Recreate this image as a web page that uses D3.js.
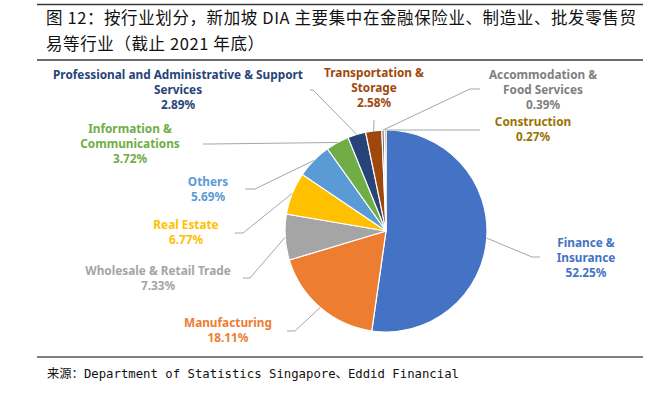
<!DOCTYPE html>
<html>
<head>
<meta charset="utf-8">
<script src="https://cdn.jsdelivr.net/npm/d3@7"></script>
<style>
  body { margin: 0; background: #fff; }
  svg { display: block; }
</style>
</head>
<body>
<script>
// data
var CATEGORIAS = ["Finance & Insurance", "Manufacturing", "Wholesale & Retail Trade", "Real Estate", "Others",
  "Information & Communications", "Professional and Administrative & Support Services",
  "Transportation & Storage", "Accommodation & Food Services", "Construction"];
var VALORES = [52.25, 18.11, 7.33, 6.77, 5.69, 3.72, 2.89, 2.58, 0.39, 0.27];
var LINEAS = [["Finance &", "Insurance"], ["Manufacturing"], ["Wholesale & Retail Trade"], ["Real Estate"], ["Others"],
  ["Information &", "Communications"], ["Professional and Administrative & Support", "Services"],
  ["Transportation &", "Storage"], ["Accommodation &", "Food Services"], ["Construction"]];
var TITULO = ["图 12：按行业划分，新加坡 DIA 主要集中在金融保险业、制造业、批发零售贸", "易等行业（截止 2021 年底）"];
var FUENTE = "来源：Department of Statistics Singapore、Eddid Financial";

// estilos
var COLORES = ["#4472C4", "#ED7D31", "#A5A5A5", "#FFC000", "#5B9BD5", "#70AD47", "#264478", "#9E480E", "#636363", "#997300"];
var COLORES_TEXTO = ["#4472C4", "#ED7D31", "#A5A5A5", "#FFC000", "#5B9BD5", "#70AD47", "#264478", "#9E480E", "#7F7F7F", "#997300"];

// posicion de etiquetas (centro de la primera linea) y codo de la linea guia
var ETIQ = [
  { x: 586, y: 243, sx: 540, ex: 532, ey: 257 },
  { x: 228, y: 323, sx: 287, ex: 295, ey: 331 },
  { x: 158, y: 271, sx: 243, ex: 250, ey: 278 },
  { x: 186, y: 225, sx: 235, ex: 243, ey: 233 },
  { x: 208, y: 182, sx: 245, ex: 255, ey: 189 },
  { x: 130, y: 129, sx: 203, ex: 210, ey: 144 },
  { x: 178, y: 75, sx: 310, ex: 313, ey: 90 },
  { x: 374, y: 73, sx: 374, ex: 374, ey: 122, vert: true },
  { x: 543, y: 75, sx: 480, ex: 470, ey: 89 },
  { x: 533, y: 122, sx: 480, ex: 475, ey: 130 }
];

var W = 661, H = 393;
var cx = 386, cy = 231, R = 101;
var LH = 15;

var svg = d3.select("body").append("svg").attr("width", W).attr("height", H);

// reglas y titulo
svg.append("line").attr("x1", 37).attr("x2", 643).attr("y1", 4.5).attr("y2", 4.5).attr("stroke", "#3a3a3a").attr("stroke-width", 1.5);
svg.append("line").attr("x1", 37).attr("x2", 643).attr("y1", 60).attr("y2", 60).attr("stroke", "#3a3a3a").attr("stroke-width", 1.5);
svg.append("line").attr("x1", 37).attr("x2", 643).attr("y1", 357).attr("y2", 357).attr("stroke", "#555").attr("stroke-width", 1.5);

svg.selectAll("text.titulo").data(TITULO).enter().append("text")
  .attr("class", "titulo")
  .attr("x", 46)
  .attr("y", function (d, i) { return 24 + i * 26; })
  .attr("font-family", "'Noto Sans CJK SC', sans-serif")
  .attr("font-size", "16.5px")
  .attr("letter-spacing", "0.6px")
  .attr("fill", "#111")
  .text(function (d) { return d; });

svg.append("text").attr("x", 47).attr("y", 378)
  .attr("font-family", "'DejaVu Sans Mono', 'Noto Sans CJK SC', monospace")
  .attr("font-size", "12.3px")
  .attr("fill", "#111")
  .text(FUENTE);

// pastel
var datos = VALORES.map(function (v, i) { return { nombre: CATEGORIAS[i], valor: v, i: i }; });
var pie = d3.pie().sort(null).value(function (d) { return d.valor; });
var arco = d3.arc().innerRadius(0).outerRadius(R);
var arcos = pie(datos);

var g = svg.append("g").attr("transform", "translate(" + cx + "," + cy + ")");
g.selectAll("path").data(arcos).enter().append("path")
  .attr("d", arco)
  .attr("fill", function (d) { return COLORES[d.data.i]; })
  .attr("stroke", "#fff")
  .attr("stroke-width", 1.2);

// lineas guia
arcos.forEach(function (a) {
  var e = ETIQ[a.data.i];
  var ang = (a.startAngle + a.endAngle) / 2;
  var px = cx + R * Math.sin(ang), py = cy - R * Math.cos(ang);
  var sy = e.vert ? e.ey - 2 : e.ey;
  svg.append("polyline")
    .attr("points", [[e.sx, sy], [e.ex, e.ey], [px, py]].map(function (p) { return p.join(","); }).join(" "))
    .attr("fill", "none")
    .attr("stroke", "#A6A6A6")
    .attr("stroke-width", 1);
});

// etiquetas
var etiquetas = svg.selectAll("text.etiq").data(datos).enter().append("text")
  .attr("class", "etiq")
  .attr("text-anchor", "middle")
  .attr("font-family", "'Noto Sans', sans-serif")
  .attr("font-weight", "bold")
  .attr("font-size", "11.8px")
  .attr("fill", function (d) { return COLORES_TEXTO[d.i]; });

etiquetas.each(function (d) {
  var e = ETIQ[d.i];
  var lineas = LINEAS[d.i].concat([d.valor.toFixed(2) + "%"]);
  d3.select(this).selectAll("tspan").data(lineas).enter().append("tspan")
    .attr("x", e.x)
    .attr("y", function (l, k) { return e.y + 4 + k * LH; })
    .text(function (l) { return l; });
});
</script>
</body>
</html>
